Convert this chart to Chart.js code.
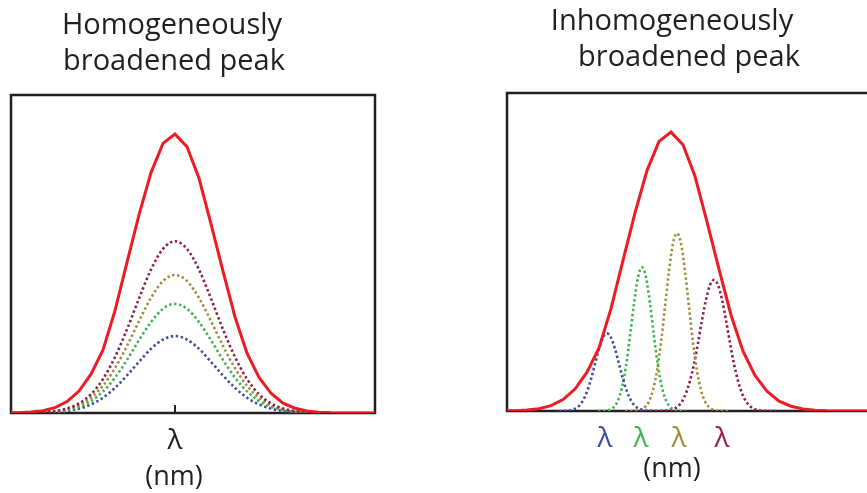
<!DOCTYPE html>
<html>
<head>
<meta charset="utf-8">
<script src="https://cdn.jsdelivr.net/npm/chart.js@4.4.1/dist/chart.umd.min.js"></script>
<style>
  html, body { margin: 0; padding: 0; background: #fff; overflow: hidden; }
  body { width: 867px; height: 493px; position: relative; font-family: "Open Sans", sans-serif; color: #231f20; }
  canvas { position: absolute; top: 0; }
  #left { left: 0; }
  #right { left: 440px; }
  .lbl { position: absolute; transform: translateX(-50%); white-space: nowrap; }
  .title { font-size: 29px; line-height: 36px; }
  .unit { font-size: 27px; line-height: 30px; }
</style>
</head>
<body>
<canvas id="left" width="440" height="493"></canvas>
<canvas id="right" width="460" height="493"></canvas>

<div class="lbl title" style="left:172px; top:5px;">Homogeneously</div>
<div class="lbl title" style="left:174px; top:41px;">broadened peak</div>
<div class="lbl title" style="left:672px; top:1px;">Inhomogeneously</div>
<div class="lbl title" style="left:689px; top:37px;">broadened peak</div>
<div class="lbl unit" style="left:174px; top:460px;">(nm)</div>
<div class="lbl unit" style="left:672px; top:452px;">(nm)</div>

<script>
// shared x grid (wavelength, arbitrary units across the box)
const gridX = [0, 8, 20, 32, 44, 56, 68, 80, 92, 104, 116, 128, 140, 152, 164, 176, 188, 200, 212, 224, 236, 248, 260, 272, 284, 296, 308, 320, 332, 344, 356, 364];
// total (red) envelope, same in both panels
const envelope = [0.0005, 0.0011, 0.003, 0.0074, 0.017, 0.036, 0.069, 0.122, 0.198, 0.322, 0.474, 0.623, 0.756, 0.848, 0.877, 0.837, 0.738, 0.595, 0.446, 0.302, 0.188, 0.112, 0.062, 0.031, 0.015, 0.0064, 0.0025, 0.0009, 0.0003, 0.0001, 0, 0];

// homogeneous components, all centred on the same wavelength
const homX = [32, 44, 56, 68, 80, 92, 104, 116, 128, 140, 152, 164, 176, 188, 200, 212, 224, 236, 248, 260, 272, 284, 296];
const homMaroon = [0.0023, 0.006, 0.014, 0.030, 0.059, 0.107, 0.176, 0.263, 0.360, 0.451, 0.516, 0.540, 0.516, 0.451, 0.360, 0.263, 0.176, 0.107, 0.059, 0.030, 0.014, 0.006, 0.0023];
const homOlive = [0.0019, 0.0048, 0.011, 0.024, 0.048, 0.086, 0.141, 0.211, 0.289, 0.362, 0.415, 0.434, 0.415, 0.362, 0.289, 0.211, 0.141, 0.086, 0.048, 0.024, 0.011, 0.0048, 0.0019];
const homGreen = [0.0015, 0.0038, 0.009, 0.019, 0.038, 0.068, 0.111, 0.167, 0.229, 0.286, 0.328, 0.343, 0.328, 0.286, 0.229, 0.167, 0.111, 0.068, 0.038, 0.019, 0.009, 0.0038, 0.0015];
const homBlue = [0.001, 0.0027, 0.0063, 0.0136, 0.027, 0.048, 0.079, 0.118, 0.161, 0.202, 0.231, 0.242, 0.231, 0.202, 0.161, 0.118, 0.079, 0.048, 0.027, 0.0136, 0.0063, 0.0027, 0.001];
const homTicks = [164];

// inhomogeneous components, shifted narrow peaks
const inhBlueX = [52, 56, 60, 64, 68, 72, 76, 80, 84, 88, 92, 96, 100, 104, 108, 112, 116, 120, 124, 128, 132, 136, 140, 144, 148];
const inhBlue = [0, 0.0003, 0.0009, 0.0027, 0.007, 0.016, 0.033, 0.061, 0.100, 0.148, 0.195, 0.231, 0.244, 0.231, 0.195, 0.148, 0.100, 0.061, 0.033, 0.016, 0.007, 0.0027, 0.0009, 0.0003, 0];
const inhGreenX = [91, 95, 99, 103, 107, 111, 115, 119, 123, 127, 131, 135, 139, 143, 147, 151, 155, 159, 163, 167, 171, 175, 179];
const inhGreen = [0, 0.0003, 0.0013, 0.0043, 0.013, 0.033, 0.074, 0.141, 0.235, 0.338, 0.420, 0.452, 0.420, 0.338, 0.235, 0.141, 0.074, 0.033, 0.013, 0.0043, 0.0013, 0.0003, 0];
const inhOliveX = [118, 122, 126, 130, 134, 138, 142, 146, 150, 154, 158, 162, 166, 170, 174, 178, 182, 186, 190, 194, 198, 202, 206, 210, 214, 218, 222];
const inhOlive = [0, 0, 0.0004, 0.0015, 0.0045, 0.0125, 0.030, 0.066, 0.126, 0.216, 0.328, 0.440, 0.527, 0.559, 0.527, 0.440, 0.328, 0.216, 0.126, 0.066, 0.030, 0.0125, 0.0045, 0.0015, 0.0004, 0, 0];
const inhMaroonX = [143, 147, 151, 155, 159, 163, 167, 171, 175, 179, 183, 187, 191, 195, 199, 203, 207, 211, 215, 219, 223, 227, 231, 235, 239, 243, 247, 251, 255, 259, 263, 267, 271];
const inhMaroon = [0, 0, 0, 0.0004, 0.0012, 0.003, 0.007, 0.015, 0.030, 0.056, 0.095, 0.148, 0.214, 0.286, 0.350, 0.396, 0.412, 0.396, 0.350, 0.286, 0.214, 0.148, 0.095, 0.056, 0.030, 0.015, 0.007, 0.003, 0.0012, 0.0004, 0, 0, 0];
const inhTicks = [98, 134, 172, 215];

const RED = '#ed1c24';
const BLUE = '#3b4ea0';
const GREEN = '#3cb54a';
const OLIVE = '#a08f3a';
const MAROON = '#8f1d4d';
const AXIS = '#231f20';
const inhTickColors = ['#3a4f9f', '#3cb44b', '#a08c38', '#9e1f4b'];

function pts(xs, ys) {
  return xs.map((x, i) => ({ x: x, y: ys[i] }));
}

// box around the plot area plus inward tick marks
const framePlugin = {
  id: 'frame',
  beforeDatasetsDraw(chart, args, opts) {
    const a = chart.chartArea;
    const ctx = chart.ctx;
    ctx.save();
    ctx.strokeStyle = AXIS;
    ctx.lineWidth = 2.5;
    ctx.strokeRect(a.left, a.top, a.right - a.left, a.bottom - a.top);
    if (opts.innerTicks) {
      const xs = chart.scales.x;
      ctx.lineWidth = 2;
      xs.ticks.forEach(t => {
        const px = xs.getPixelForValue(t.value);
        ctx.beginPath();
        ctx.moveTo(px, a.bottom);
        ctx.lineTo(px, a.bottom - 8);
        ctx.stroke();
      });
    }
    ctx.restore();
  }
};

function solid(data) {
  return { data: data, borderColor: RED, borderWidth: 3, pointRadius: 0, tension: 0 };
}
function dotted(data, color) {
  return { data: data, borderColor: color, borderWidth: 2.6, borderDash: [2.4, 2.6], pointRadius: 0, cubicInterpolationMode: 'monotone' };
}

function makeOptions(tickVals, tickColor, padding, innerTicks) {
  return {
    responsive: false,
    animation: false,
    devicePixelRatio: 1,
    layout: { padding: padding },
    plugins: {
      legend: { display: false },
      tooltip: { enabled: false },
      frame: { innerTicks: innerTicks }
    },
    scales: {
      x: {
        type: 'linear',
        min: 0,
        max: 364,
        grid: { display: false, drawTicks: false },
        border: { display: false },
        afterFit: (scale) => { scale.height = 80; },
        afterBuildTicks: (scale) => { scale.ticks = tickVals.map(v => ({ value: v })); },
        ticks: {
          autoSkip: false,
          maxRotation: 0,
          padding: 11,
          font: { family: 'Open Sans', size: 28 },
          color: tickColor,
          callback: () => 'λ'
        }
      },
      y: { type: 'linear', min: 0, max: 1, display: false }
    }
  };
}

new Chart(document.getElementById('left'), {
  type: 'line',
  data: {
    datasets: [
      solid(pts(gridX, envelope)),
      dotted(pts(homX, homMaroon), MAROON),
      dotted(pts(homX, homOlive), OLIVE),
      dotted(pts(homX, homGreen), GREEN),
      dotted(pts(homX, homBlue), BLUE)
    ]
  },
  options: makeOptions(homTicks, AXIS, { left: 11, top: 95, right: 65, bottom: 0 }, true),
  plugins: [framePlugin]
});

new Chart(document.getElementById('right'), {
  type: 'line',
  data: {
    datasets: [
      solid(pts(gridX, envelope)),
      dotted(pts(inhBlueX, inhBlue), BLUE),
      dotted(pts(inhGreenX, inhGreen), GREEN),
      dotted(pts(inhOliveX, inhOlive), OLIVE),
      dotted(pts(inhMaroonX, inhMaroon), MAROON)
    ]
  },
  options: makeOptions(inhTicks, (c) => inhTickColors[c.index], { left: 67, top: 93, right: 29, bottom: 2 }, false),
  plugins: [framePlugin]
});
</script>
</body>
</html>
